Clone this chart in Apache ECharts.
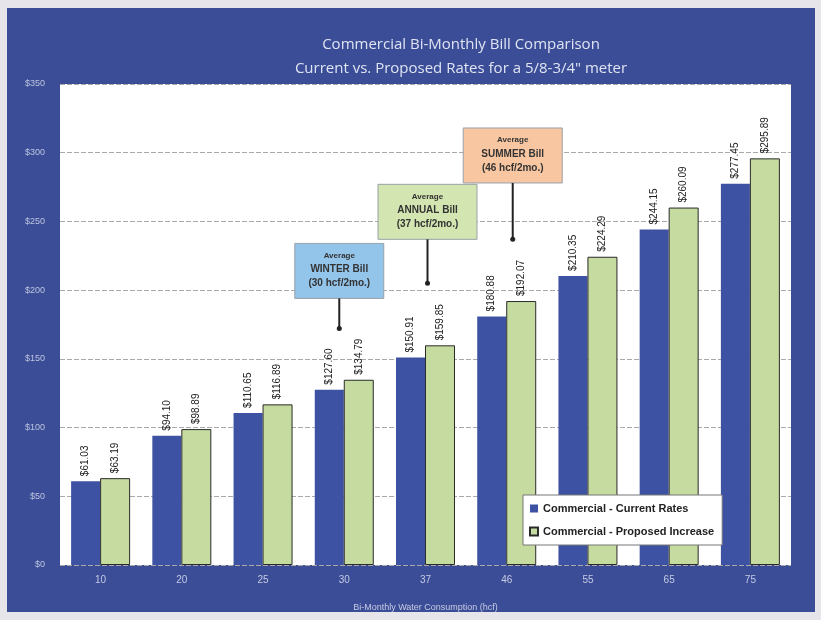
<!DOCTYPE html>
<html><head><meta charset="utf-8">
<script src="https://cdn.jsdelivr.net/npm/echarts@6/dist/echarts.min.js"></script>
<style>
html,body{margin:0;padding:0;background:#e6e6ea;}
#bg{position:absolute;left:7px;top:8px;width:808px;height:604px;background:#3b4d97;}
#main{position:absolute;left:0;top:0;width:821px;height:620px;}
</style></head>
<body><div id="bg"></div><div id="main"></div>
<script>
const categories = ['10','20','25','30','37','46','55','65','75'];
const currentRates = [61.03, 94.10, 110.65, 127.60, 150.91, 180.88, 210.35, 244.15, 277.45];
const proposedRates = [63.19, 98.89, 116.89, 134.79, 159.85, 192.07, 224.29, 260.09, 295.89];
const yTicks = [0, 50, 100, 150, 200, 250, 300, 350];
const annotations = [
  {cat:'30', lines:['Average','WINTER Bill','(30 hcf/2mo.)'], fill:'#93c4ea', boxTop:234, arrowTo:172, dx:-5, w:89},
  {cat:'37', lines:['Average','ANNUAL Bill','(37 hcf/2mo.)'], fill:'#d3e5b0', boxTop:277, arrowTo:205, dx:2, w:99},
  {cat:'46', lines:['Average','SUMMER Bill','(46 hcf/2mo.)'], fill:'#f8c6a0', boxTop:318, arrowTo:237, dx:6, w:99}
];

const chart = echarts.init(document.getElementById('main'));
const lbl = {
  show:true, position:'top', rotate:90, align:'left', verticalAlign:'middle', distance:5,
  fontSize:10, color:'#222', fontFamily:'Liberation Sans Narrow, Liberation Sans, sans-serif',
  formatter: p => '$' + p.value.toFixed(2)
};
chart.setOption({
  backgroundColor:'transparent',
  animation:false,
  title:{
    text:'Commercial Bi-Monthly Bill Comparison\nCurrent vs. Proposed Rates for a 5/8-3/4" meter',
    left:456, top:28, textAlign:'center',
    textStyle:{color:'#dfe4f2', fontSize:15, fontWeight:'normal', fontFamily:'Open Sans, sans-serif', lineHeight:24}
  },
  legend:{
    orient:'vertical', left:523, top:495, itemWidth:8, itemHeight:8, itemGap:12, icon:'rect',
    backgroundColor:'#fff', borderColor:'#777', borderWidth:1, padding:[8,8,8,6],
    textStyle:{fontSize:11, fontWeight:'bold', color:'#222', fontFamily:'Liberation Sans Narrow, Liberation Sans, sans-serif'},
    data:['Commercial - Current Rates','Commercial - Proposed Increase']
  },
  grid:{left:60, right:30, top:84, bottom:55, show:true, backgroundColor:'#fff', borderWidth:0},
  xAxis:{
    type:'category', data:categories,
    name:'Bi-Monthly Water Consumption (hcf)', nameLocation:'middle', nameGap:38,
    nameTextStyle:{color:'#c5cbe3', fontSize:9},
    axisLine:{show:false}, axisTick:{show:false},
    axisLabel:{color:'#c5cbe3', fontSize:10, margin:10}
  },
  yAxis:{
    type:'value', min:0, max:350, interval:50,
    axisLine:{show:false}, axisTick:{show:false},
    axisLabel:{color:'#bcc4de', fontSize:9, margin:15, formatter: v => '$' + v},
    splitLine:{lineStyle:{color:'#aaaaaa', width:1, type:[5,2]}}
  },
  series:[
    {name:'Commercial - Current Rates', type:'bar', data:currentRates, barWidth:29, barGap:'0%',
     itemStyle:{color:'#3e52a3'}, label:lbl},
    {name:'Commercial - Proposed Increase', type:'bar', data:proposedRates, barWidth:30,
     itemStyle:{color:'#c5dba0', borderColor:'#2a2a2a', borderWidth:1}, label:lbl}
  ]
});

const g = [];
annotations.forEach(a => {
  const top = chart.convertToPixel({yAxisIndex:0}, a.boxTop);
  const bottomArrow = chart.convertToPixel({yAxisIndex:0}, a.arrowTo);
  const cx = chart.convertToPixel({xAxisIndex:0}, a.cat) + a.dx;
  const w = a.w, h = 55;
  const ff = 'Liberation Sans Narrow, Liberation Sans, sans-serif';
  g.push({type:'rect', shape:{x:cx-w/2, y:top, width:w, height:h},
    style:{fill:a.fill, stroke:'#9aa0a8', lineWidth:1}, z:10});
  g.push({type:'text', x:cx, y:top+8, style:{text:a.lines[0], fill:'#333', fontSize:8, fontWeight:'bold', textAlign:'center', fontFamily:ff}, z:11});
  g.push({type:'text', x:cx, y:top+21, style:{text:a.lines[1], fill:'#333', fontSize:10, fontWeight:'bold', textAlign:'center', fontFamily:ff}, z:11});
  g.push({type:'text', x:cx, y:top+35, style:{text:a.lines[2], fill:'#333', fontSize:10, fontWeight:'bold', textAlign:'center', fontFamily:ff}, z:11});
  g.push({type:'line', shape:{x1:cx, y1:top+h, x2:cx, y2:bottomArrow}, style:{stroke:'#222', lineWidth:2}, z:10});
  g.push({type:'circle', shape:{cx:cx, cy:bottomArrow, r:2.5}, style:{fill:'#222'}, z:10});
});
chart.setOption({graphic:g});
</script></body></html>
